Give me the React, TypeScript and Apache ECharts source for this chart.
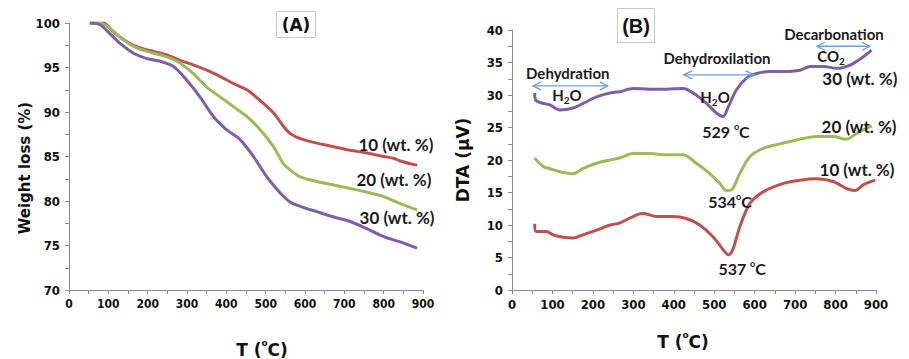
import React, { useEffect, useRef } from 'react';
import * as echarts from 'echarts';

// ---------- Panel A: TGA (weight loss %) ----------
const tgaT10 = [53, 87, 113, 147, 181, 215, 249, 282, 316, 350, 384, 418, 452, 486, 520, 545, 562, 588, 630, 673, 715, 757, 800, 825, 842, 885];
const tgaW10 = [100, 100, 99.0, 97.9, 97.2, 96.8, 96.4, 95.8, 95.3, 94.7, 94.0, 93.2, 92.5, 91.3, 89.9, 88.4, 87.6, 87.0, 86.5, 86.1, 85.7, 85.4, 85.0, 84.8, 84.5, 84.0];
const tgaT20 = [53, 79, 104, 138, 172, 215, 249, 282, 316, 350, 384, 418, 452, 486, 520, 545, 562, 588, 630, 673, 715, 757, 800, 842, 885];
const tgaW20 = [100, 100, 99.4, 98.1, 97.2, 96.6, 96.2, 95.5, 94.3, 92.8, 91.7, 90.6, 89.5, 88.0, 86.1, 84.2, 83.5, 82.7, 82.2, 81.8, 81.4, 81.0, 80.5, 79.7, 79.0];
const tgaT30 = [53, 79, 104, 130, 164, 198, 232, 266, 299, 333, 367, 401, 435, 469, 503, 537, 562, 588, 630, 673, 715, 757, 800, 842, 885];
const tgaW30 = [100, 99.8, 98.8, 97.7, 96.6, 96.0, 95.7, 95.1, 93.6, 91.7, 89.5, 88.0, 86.9, 85.0, 82.7, 80.9, 79.9, 79.4, 78.8, 78.2, 77.7, 76.9, 76.0, 75.4, 74.7];

// ---------- Panel B: DTA (µV) ----------
const dtaT10 = [56, 60, 85, 101, 126, 151, 176, 209, 242, 266, 299, 324, 357, 398, 431, 464, 497, 522, 535, 547, 563, 588, 621, 671, 712, 753, 794, 827, 848, 869, 898];
const dtaV10 = [10.2, 9.0, 9.0, 8.5, 8.1, 8.0, 8.5, 9.2, 10.0, 10.3, 11.3, 11.8, 11.3, 11.3, 11.0, 10.0, 8.2, 6.2, 5.4, 6.4, 9.7, 13.3, 15.1, 16.4, 16.9, 17.1, 16.7, 15.6, 15.3, 16.2, 16.9];
const dtaT20 = [56, 77, 93, 118, 151, 176, 209, 242, 266, 299, 341, 382, 423, 456, 489, 514, 530, 543, 563, 588, 621, 671, 712, 753, 794, 827, 852, 877, 890];
const dtaV20 = [20.3, 19.0, 18.7, 18.2, 17.9, 18.7, 19.5, 20.0, 20.3, 21.0, 21.0, 20.8, 20.8, 19.5, 17.9, 16.4, 15.3, 15.4, 17.9, 20.5, 21.8, 22.6, 23.2, 23.6, 23.6, 23.2, 24.1, 24.9, 25.2];
const dtaT30 = [56, 59, 77, 93, 118, 151, 176, 209, 242, 266, 299, 341, 382, 423, 448, 481, 506, 522, 535, 555, 580, 605, 638, 671, 712, 737, 770, 803, 836, 869, 889];
const dtaV30 = [30.3, 29.2, 28.7, 28.5, 27.7, 28.0, 28.7, 29.7, 30.3, 30.5, 31.0, 30.9, 30.9, 31.0, 30.3, 28.7, 27.2, 26.7, 28.2, 30.8, 32.6, 33.3, 33.6, 33.6, 33.8, 34.4, 34.4, 34.1, 34.6, 35.9, 36.9];

const seriesNames = ['10 (wt. %)', '20 (wt. %)', '30 (wt. %)'];
const peakLabels = ['537', '534', '529'];

const RED = '#c0504d';
const GREEN = '#9bbb59';
const PURPLE = '#7d5fa6';
const BLUE = '#6f9fd8';
const AXIS = '#8c8c8c';

const zip = (t: number[], v: number[]) => t.map((x, i) => [x, v[i]]);

const TICK_FAMILY = '"DejaVu Sans Condensed", "DejaVu Sans", sans-serif';
const tickFont = { fontFamily: TICK_FAMILY, fontWeight: 'bold' as const, color: '#111' };

function makeX(gridIndex: number, size: number) {
  return {
    type: 'value', gridIndex, min: 0, max: 900, interval: 50,
    axisLine: { show: true, onZero: false, lineStyle: { color: AXIS, width: 1 } },
    axisTick: { show: true, length: 4, lineStyle: { color: AXIS } },
    axisLabel: { ...tickFont, fontSize: size, margin: 8, formatter: (v: number) => (v % 100 === 0 ? String(v) : '') },
    splitLine: { show: false },
  };
}
function makeY(gridIndex: number, min: number, max: number) {
  return {
    type: 'value', gridIndex, min, max, interval: 2.5,
    axisLine: { show: true, onZero: false, lineStyle: { color: AXIS, width: 1 } },
    axisTick: { show: true, length: 4, lineStyle: { color: AXIS } },
    axisLabel: { ...tickFont, fontSize: 13, margin: 9, formatter: (v: number) => (v % 5 === 0 ? String(v) : '') },
    splitLine: { show: false },
  };
}
function line(name: string, data: number[][], color: string, xi: number) {
  return {
    type: 'line', name, data, xAxisIndex: xi, yAxisIndex: xi, smooth: 0.3, showSymbol: false,
    lineStyle: { color, width: 3 }, itemStyle: { color }, silent: true,
  };
}

const annFont = { fontFamily: 'Lato', fontWeight: 'bold' as const, fill: '#1b1b1b' };

export default function App() {
  const ref = useRef<HTMLDivElement>(null);
  useEffect(() => {
    document.body.style.margin = '0';
    const chart = echarts.init(ref.current!, null, { renderer: 'svg' });
    chart.setOption({
      animation: false,
      backgroundColor: '#ffffff',
      grid: [
        { left: 69, top: 23, width: 354, height: 267 },
        { left: 512, top: 30, width: 364, height: 260 },
      ],
      xAxis: [makeX(0, 12), makeX(1, 13)],
      yAxis: [makeY(0, 70, 100), makeY(1, 0, 40)],
      series: [
        line(seriesNames[0], zip(tgaT10, tgaW10), RED, 0),
        line(seriesNames[1], zip(tgaT20, tgaW20), GREEN, 0),
        line(seriesNames[2], zip(tgaT30, tgaW30), PURPLE, 0),
        line(seriesNames[0], zip(dtaT10, dtaV10), RED, 1),
        line(seriesNames[1], zip(dtaT20, dtaV20), GREEN, 1),
        line(seriesNames[2], zip(dtaT30, dtaV30), PURPLE, 1),
      ],
    });

    const P = (g: number, t: number, v: number) => chart.convertToPixel({ gridIndex: g }, [t, v]) as number[];

    const text = (g: number, t: number, v: number, s: string, size: number, extra: any = {}) => {
      const [x, y] = P(g, t, v);
      return {
        type: 'text', x, y, z: 10,
        style: { text: s, fontSize: size, align: 'center', verticalAlign: 'middle', ...annFont, ...extra },
      };
    };
    const degText = (g: number, t: number, v: number, num: string, gap: string) => {
      const [x, y] = P(g, t, v);
      return {
        type: 'text', x, y, z: 10,
        style: {
          text: `{n|${num}${gap}}{s|o}{n|C}`, align: 'center', verticalAlign: 'middle',
          rich: {
            n: { ...annFont, fontSize: 16, lineHeight: 18, verticalAlign: 'bottom' },
            s: { ...annFont, fontSize: 9, lineHeight: 18, verticalAlign: 'top' },
          },
        },
      };
    };
    const subText = (g: number, t: number, v: number, a: string, sub: string, b: string) => {
      const [x, y] = P(g, t, v);
      return {
        type: 'text', x, y, z: 10,
        style: {
          text: `{n|${a}}{s|${sub}}{n|${b}}`, align: 'center', verticalAlign: 'middle',
          rich: {
            n: { ...annFont, fontSize: 15, lineHeight: 18, verticalAlign: 'top' },
            s: { ...annFont, fontSize: 10, lineHeight: 18, verticalAlign: 'bottom' },
          },
        },
      };
    };
    const arrow = (g: number, t1: number, t2: number, v: number) => {
      const [x1, y] = P(g, t1, v);
      const [x2] = P(g, t2, v);
      const st = { stroke: BLUE, lineWidth: 1.3, fill: null };
      return [
        { type: 'line', z: 10, shape: { x1, y1: y, x2, y2: y }, style: st },
        { type: 'polyline', z: 10, shape: { points: [[x1 + 8, y - 4], [x1, y], [x1 + 8, y + 4]] }, style: st },
        { type: 'polyline', z: 10, shape: { points: [[x2 - 8, y - 4], [x2, y], [x2 - 8, y + 4]] }, style: st },
      ];
    };
    const axisTitle = (x: number, y: number, rot: number, body: string, rich: any) => ({
      type: 'text', x, y, rotation: rot, z: 10,
      style: { text: body, align: 'center', verticalAlign: 'middle', rich },
    });
    const titleRich = {
      n: { fontFamily: 'DejaVu Sans', fontWeight: 'bold', fontSize: 17, fill: '#111', lineHeight: 20, verticalAlign: 'bottom' },
      s: { fontFamily: 'DejaVu Sans', fontWeight: 'bold', fontSize: 9, fill: '#111', lineHeight: 20, verticalAlign: 'top' },
    };

    const graphic: any[] = [
      // panel boxes
      { type: 'rect', shape: { x: 276.5, y: 11.5, width: 39, height: 26 }, style: { fill: '#fff', stroke: '#c8c8c8', lineWidth: 1 } },
      { type: 'text', x: 296, y: 25, style: { text: '(A)', fontFamily: 'DejaVu Sans', fontWeight: 'bold', fontSize: 17, fill: '#111', align: 'center', verticalAlign: 'middle' } },
      { type: 'rect', shape: { x: 617.5, y: 8.5, width: 37, height: 34 }, style: { fill: '#fff', stroke: '#c8c8c8', lineWidth: 1 } },
      { type: 'text', x: 636, y: 26, style: { text: '(B)', fontFamily: 'Liberation Sans', fontWeight: 'bold', fontSize: 20, fill: '#111', align: 'center', verticalAlign: 'middle' } },
      // axis titles
      axisTitle(262, 348, 0, '{n|T (}{s|o}{n|C)}', titleRich),
      axisTitle(683, 340, 0, '{n|T (}{s|o}{n|C)}', titleRich),
      { type: 'text', x: 25, y: 168, rotation: Math.PI / 2, style: { text: 'Weight loss (%)', fontFamily: 'DejaVu Sans', fontWeight: 'bold', fontSize: 15, fill: '#111', align: 'center', verticalAlign: 'middle' } },
      { type: 'text', x: 463, y: 160, rotation: Math.PI / 2, style: { text: 'DTA (μV)', fontFamily: 'DejaVu Sans', fontWeight: 'bold', fontSize: 17, fill: '#111', align: 'center', verticalAlign: 'middle' } },
      // panel A series labels
      text(0, 831, 86.3, seriesNames[0], 17),
      text(0, 826, 82.4, seriesNames[1], 17),
      text(0, 834, 78.1, seriesNames[2], 17),
      // panel B series labels
      text(1, 860, 32.6, seriesNames[2], 17),
      text(1, 858, 25.1, seriesNames[1], 17),
      text(1, 853, 18.5, seriesNames[0], 17),
      // panel B annotations
      text(1, 138, 33.4, 'Dehydration', 15),
      ...arrow(1, 52, 237, 31.4),
      subText(1, 136, 29.8, 'H', '2', 'O'),
      text(1, 507, 35.7, 'Dehydroxilation', 15),
      ...arrow(1, 425, 598, 33.1),
      subText(1, 502, 29.5, 'H', '2', 'O'),
      text(1, 796, 39.4, 'Decarbonation', 15),
      ...arrow(1, 754, 885, 37.5),
      subText(1, 789, 35.8, 'CO', '2', ''),
      degText(1, 529, 24.5, peakLabels[2], ' '),
      degText(1, 539, 13.7, peakLabels[1], ''),
      degText(1, 569, 3.4, peakLabels[0], ' '),
    ];
    chart.setOption({ graphic });
    return () => chart.dispose();
  }, []);
  return <div ref={ref} style={{ width: 909, height: 359 }} />;
}
